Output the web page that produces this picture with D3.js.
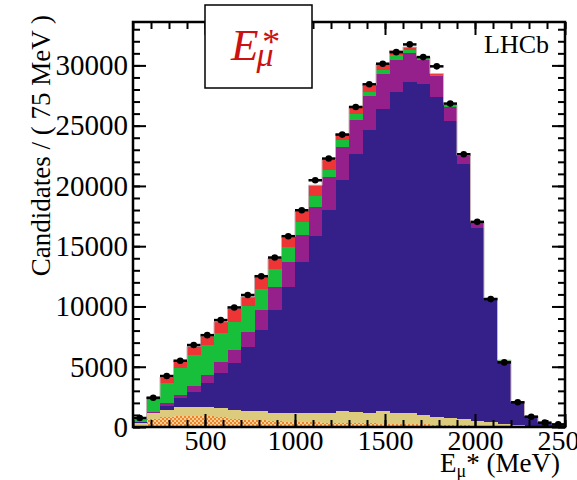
<!DOCTYPE html>
<html>
<head>
<meta charset="utf-8">
<script src="https://cdn.jsdelivr.net/npm/d3@7"></script>
<style>
  html, body { margin: 0; padding: 0; background: #fff; }
  svg { display: block; }
  text { font-family: "Liberation Serif", "Times New Roman", Times, serif; }
</style>
</head>
<body>
<svg id="chart" width="577" height="480"></svg>
<script>
// Lower edges of the 75 MeV bins of E_mu* (MeV)
const binLow = [100, 175, 250, 325, 400, 475, 550, 625, 700, 775, 850, 925, 1000, 1075, 1150, 1225,
                1300, 1375, 1450, 1525, 1600, 1675, 1750, 1825, 1900, 1975, 2050, 2125, 2200, 2275, 2350, 2425];
const binWidth = 75;

// Observed candidates per bin
const dataCounts = [746, 2430, 4230, 5500, 6800, 7620, 8870, 9920, 10950, 12510, 14060, 15830, 17980, 20470, 22270, 24260,
                    26550, 28430, 30140, 31100, 31740, 30690, 29920, 26830, 22630, 17020, 10610, 5360, 2050, 855, 360, 220];

// Fitted components, stacked bottom to top
const compHatched = [80, 650, 850, 900, 920, 900, 800, 700, 600, 550, 480, 440, 400, 380, 360, 340,
                     320, 300, 280, 260, 240, 220, 200, 180, 150, 120, 90, 60, 40, 20, 10, 5];
const compKhaki   = [270, 485, 550, 750, 730, 750, 750, 700, 700, 750, 720, 740, 770, 780, 810, 960,
                     960, 900, 1020, 920, 910, 780, 650, 590, 510, 400, 290, 190, 110, 40, 20, 5];
const compNavy    = [40, 65, 380, 730, 1280, 1980, 2910, 3940, 5360, 6750, 8510, 10400, 12530, 14670, 16870, 19170,
                     21410, 23410, 25110, 26610, 27470, 27430, 26520, 24590, 21190, 16030, 10170, 5200, 1910, 830, 350, 190];
const compMagenta = [20, 70, 210, 270, 470, 690, 960, 1050, 1250, 1660, 1870, 2120, 2220, 2430, 2660, 2740,
                     2810, 2820, 2900, 2680, 2400, 2040, 1720, 1190, 650, 380, 100, 50, 20, 10, 5, 3];
const compGreen   = [230, 970, 1660, 2210, 2570, 2480, 2360, 2350, 2130, 1720, 1490, 1240, 1100, 890, 660, 580,
                     500, 360, 330, 360, 280, 150, 80, 80, 20, 20, 30, 30, 10, 5, 3, 2];
const compRed     = [40, 210, 500, 610, 710, 750, 960, 1110, 760, 1040, 940, 830, 910, 910, 830, 540,
                     600, 560, 480, 410, 220, 70, 150, 110, 20, 20, 20, 20, 10, 5, 2, 2];

const yMajorTicks = [0, 5000, 10000, 15000, 20000, 25000, 30000];
const xMajorTicks = [500, 1000, 1500, 2000, 2500];

(function draw() {
  const svg = d3.select("#chart");
  const L = 133, R = 565, T = 22, B = 427;

  const x = d3.scaleLinear().domain([100, 2500]).range([L, R]);
  const y = d3.scaleLinear().domain([0, 33600]).range([B, T]);

  // checkered fill for the lowest component
  const defs = svg.append("defs");
  const pat = defs.append("pattern").attr("id", "checker")
    .attr("width", 4).attr("height", 4).attr("patternUnits", "userSpaceOnUse");
  pat.append("rect").attr("width", 4).attr("height", 4).attr("fill", "#f6cf92");
  pat.append("rect").attr("width", 2).attr("height", 2).attr("fill", "#f0822a");
  pat.append("rect").attr("x", 2).attr("y", 2).attr("width", 2).attr("height", 2).attr("fill", "#f0822a");

  const keys = ["hatched", "khaki", "navy", "magenta", "green", "red"];
  const fills = {
    hatched: "url(#checker)", khaki: "#dccb7c", navy: "#35208a",
    magenta: "#96208b", green: "#17bf3b", red: "#ee3535"
  };
  const table = binLow.map((lo, i) => ({
    lo, hi: lo + binWidth,
    hatched: compHatched[i], khaki: compKhaki[i], navy: compNavy[i],
    magenta: compMagenta[i], green: compGreen[i], red: compRed[i],
    data: dataCounts[i]
  }));

  const stacked = d3.stack().keys(keys)(table);

  const plot = svg.append("g");
  stacked.forEach(layer => {
    plot.append("g").attr("fill", fills[layer.key]).attr("shape-rendering", "crispEdges")
      .selectAll("rect").data(layer).join("rect")
      .attr("x", d => x(d.data.lo))
      .attr("width", d => x(d.data.hi) - x(d.data.lo))
      .attr("y", d => y(d[1]))
      .attr("height", d => Math.max(0, y(d[0]) - y(d[1])));
  });

  // faint outline of the total stack
  const topLayer = stacked[stacked.length - 1];
  const outline = [];
  topLayer.forEach(d => { outline.push([d.data.lo, d[1]]); outline.push([d.data.hi, d[1]]); });
  plot.append("path")
    .attr("d", d3.line().x(p => x(p[0])).y(p => y(p[1]))(outline))
    .attr("fill", "none").attr("stroke", "#c8b4b4").attr("stroke-width", 1);

  // data points with bin-width and statistical error bars
  const pts = plot.append("g");
  table.forEach(d => {
    const cx = x(d.lo + binWidth / 2), cy = y(d.data);
    pts.append("line").attr("x1", x(d.lo)).attr("x2", x(d.hi)).attr("y1", cy).attr("y2", cy)
      .attr("stroke", "#000").attr("stroke-width", 2.5);
    const e = Math.sqrt(d.data);
    pts.append("line").attr("x1", cx).attr("x2", cx).attr("y1", y(d.data + e)).attr("y2", y(d.data - e))
      .attr("stroke", "#000").attr("stroke-width", 2.5);
    pts.append("circle").attr("cx", cx).attr("cy", cy).attr("r", 3.3).attr("fill", "#000");
  });

  // axes: ticks drawn inward on all four sides
  const yMinor = d3.range(0, 33001, 1000);
  const xMinor = d3.range(100, 2501, 100);
  function styleAxis(size) {
    return g => {
      g.select(".domain").remove();
      g.selectAll(".tick line").attr("stroke", "#000").attr("stroke-width", 2);
      g.selectAll("text").attr("fill", "#000").attr("font-size", size)
        .attr("font-family", "'Liberation Serif', 'Times New Roman', serif");
    };
  }
  svg.append("g").attr("transform", `translate(${L},0)`)
    .call(d3.axisLeft(y).tickValues(yMinor).tickSize(-7).tickFormat("")).call(styleAxis(29));
  svg.append("g").attr("transform", `translate(${L},0)`)
    .call(d3.axisLeft(y).tickValues(yMajorTicks).tickSize(-13).tickPadding(5).tickFormat(d3.format("d"))).call(styleAxis(29));
  svg.append("g").attr("transform", `translate(${R},0)`)
    .call(d3.axisRight(y).tickValues(yMinor).tickSize(-7).tickFormat("")).call(styleAxis(29));
  svg.append("g").attr("transform", `translate(${R},0)`)
    .call(d3.axisRight(y).tickValues(yMajorTicks).tickSize(-13).tickFormat("")).call(styleAxis(29));
  svg.append("g").attr("transform", `translate(0,${B})`)
    .call(d3.axisBottom(x).tickValues(xMinor).tickSize(-7).tickFormat("")).call(styleAxis(28));
  svg.append("g").attr("transform", `translate(0,${B})`)
    .call(d3.axisBottom(x).tickValues(xMajorTicks).tickSize(-13).tickPadding(3).tickFormat(d3.format("d"))).call(styleAxis(28));
  svg.append("g").attr("transform", `translate(0,${T})`)
    .call(d3.axisTop(x).tickValues(xMinor).tickSize(-7).tickFormat("")).call(styleAxis(28));
  svg.append("g").attr("transform", `translate(0,${T})`)
    .call(d3.axisTop(x).tickValues(xMajorTicks).tickSize(-13).tickFormat("")).call(styleAxis(28));

  // frame
  svg.append("rect").attr("x", L).attr("y", T).attr("width", R - L).attr("height", B - T)
    .attr("fill", "none").attr("stroke", "#000").attr("stroke-width", 2.5);

  // axis titles
  svg.append("text").attr("transform", "translate(50,15) rotate(-90)")
    .attr("text-anchor", "end").attr("font-size", 27).attr("fill", "#000")
    .text("Candidates / ( 75 MeV )");

  const xt = svg.append("text").attr("x", 560).attr("y", 472).attr("text-anchor", "end")
    .attr("font-size", 27).attr("fill", "#000");
  xt.append("tspan").text("E");
  xt.append("tspan").attr("font-size", 18).attr("dy", 5).text("μ");
  xt.append("tspan").attr("dy", -5).text("* (MeV)");

  // LHCb label
  svg.append("text").attr("x", 549).attr("y", 53).attr("text-anchor", "end")
    .attr("font-size", 26).attr("fill", "#000").text("LHCb");

  // variable name box
  svg.append("rect").attr("x", 205).attr("y", 5).attr("width", 107).attr("height", 83)
    .attr("fill", "#fff").attr("stroke", "#000").attr("stroke-width", 1.5);
  const tt = svg.append("text").attr("x", 231).attr("y", 60)
    .attr("fill", "#cc1111").attr("font-style", "italic").attr("font-size", 45);
  tt.append("tspan").text("E");
  tt.append("tspan").attr("font-size", 34).attr("dx", -2).attr("dy", 6).text("μ");
  tt.append("tspan").attr("font-size", 36).attr("dx", -13).attr("dy", -12).text("*");
})();
</script>
</body>
</html>
